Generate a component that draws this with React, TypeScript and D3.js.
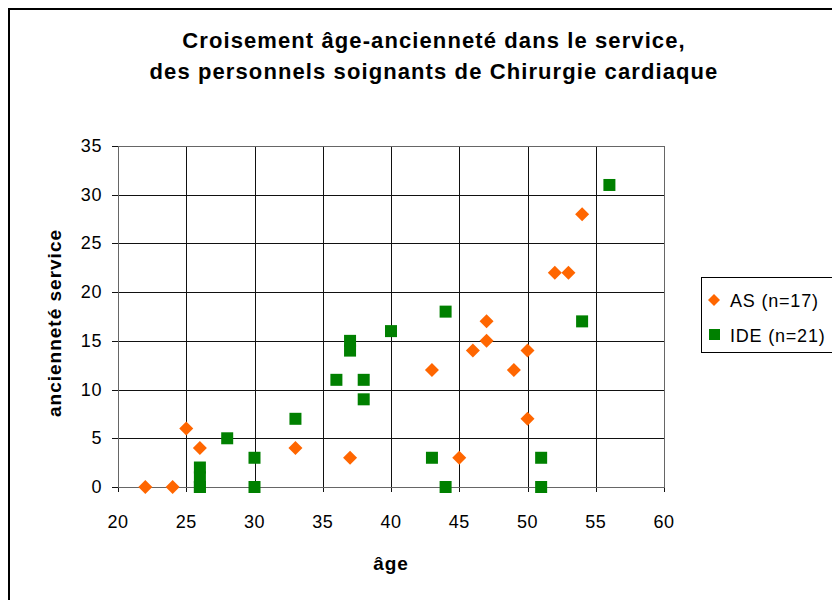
import React from "react";
import * as d3 from "d3";

const titleLines = [
  "Croisement âge-ancienneté dans le service,",
  "des personnels soignants de Chirurgie cardiaque",
];
const xLabel = "âge";
const yLabel = "ancienneté service";

const asAge = [22, 24, 25, 26, 33, 37, 43, 45, 46, 47, 47, 49, 50, 50, 52, 53, 54];
const asSeniority = [0, 0, 6, 4, 4, 3, 12, 3, 14, 15, 17, 12, 14, 7, 22, 22, 28];

const ideAge = [26, 26, 26, 26, 28, 30, 30, 33, 36, 37, 37, 38, 38, 40, 43, 44, 44, 51, 51, 54, 56];
const ideSeniority = [0, 0, 1, 2, 5, 3, 0, 7, 11, 15, 14, 11, 9, 16, 3, 18, 0, 3, 0, 17, 31];

const xTicks = [20, 25, 30, 35, 40, 45, 50, 55, 60];
const yTicks = [0, 5, 10, 15, 20, 25, 30, 35];

const legendLabels = ["AS (n=17)", "IDE (n=21)"];
const ORANGE = "#FF6600";
const GREEN = "#008000";
const FONT = "'Liberation Sans', Arial, Helvetica, sans-serif";

export default function App() {
  const x = d3.scaleLinear().domain([20, 60]).range([118, 664]);
  const y = d3.scaleLinear().domain([0, 35]).range([487, 146]);
  const dPath = (h: number) => `M0,${-h}L${h},0L0,${h}L${-h},0Z`;

  return (
    <svg
      width={832}
      height={600}
      style={{ position: "absolute", left: 0, top: 0 }}
      fontFamily={FONT}
    >
      <rect x={0} y={0} width={832} height={600} fill="#fff" />
      <rect x={9} y={9} width={900} height={900} fill="none" stroke="#000" strokeWidth={2} />

      {titleLines.map((t, i) => (
        <text key={i} x={434} y={48 + i * 31} textAnchor="middle" fontWeight="bold" fontSize={22} letterSpacing={1.1}>
          {t}
        </text>
      ))}

      {/* grid */}
      {xTicks.map((t) => (
        <line key={"gx" + t} x1={Math.round(x(t)) + 0.5} x2={Math.round(x(t)) + 0.5} y1={y(35)} y2={y(0) + 5} stroke="#111" strokeWidth={1} />
      ))}
      {yTicks.map((t) => (
        <line key={"gy" + t} x1={x(20) - 6} x2={x(60)} y1={Math.round(y(t)) + 0.5} y2={Math.round(y(t)) + 0.5} stroke="#111" strokeWidth={1} />
      ))}
      <rect x={x(20) + 0.5} y={y(35) + 0.5} width={x(60) - x(20)} height={y(0) - y(35)} fill="none" stroke="#666" strokeWidth={1} />

      {/* tick labels */}
      {yTicks.map((t) => (
        <text key={"ly" + t} x={102} y={y(t) + 6} textAnchor="end" fontSize={18} letterSpacing={0.6}>
          {t}
        </text>
      ))}
      {xTicks.map((t) => (
        <text key={"lx" + t} x={x(t)} y={528} textAnchor="middle" fontSize={18} letterSpacing={0.6}>
          {t}
        </text>
      ))}

      <text x={391} y={570} textAnchor="middle" fontWeight="bold" fontSize={19} letterSpacing={1}>
        {xLabel}
      </text>
      <text
        transform={`translate(61,${323}) rotate(-90)`}
        textAnchor="middle"
        fontWeight="bold"
        fontSize={19}
        letterSpacing={1}
      >
        {yLabel}
      </text>

      {/* points */}
      {ideAge.map((a, i) => (
        <rect key={"i" + i} x={x(a) - 6} y={y(ideSeniority[i]) - 6} width={12} height={12} fill={GREEN} />
      ))}
      {asAge.map((a, i) => (
        <path key={"a" + i} transform={`translate(${x(a)},${y(asSeniority[i])})`} d={dPath(7)} fill={ORANGE} />
      ))}

      {/* legend */}
      <rect x={701.5} y={277.5} width={200} height={75} fill="#fff" stroke="#000" strokeWidth={1} />
      <path transform="translate(714,300)" d={dPath(6)} fill={ORANGE} />
      <text x={730} y={307} fontSize={18} letterSpacing={0.8}>{legendLabels[0]}</text>
      <rect x={709} y={329} width={11} height={11} fill={GREEN} />
      <text x={730} y={342} fontSize={18} letterSpacing={0.8}>{legendLabels[1]}</text>
    </svg>
  );
}
